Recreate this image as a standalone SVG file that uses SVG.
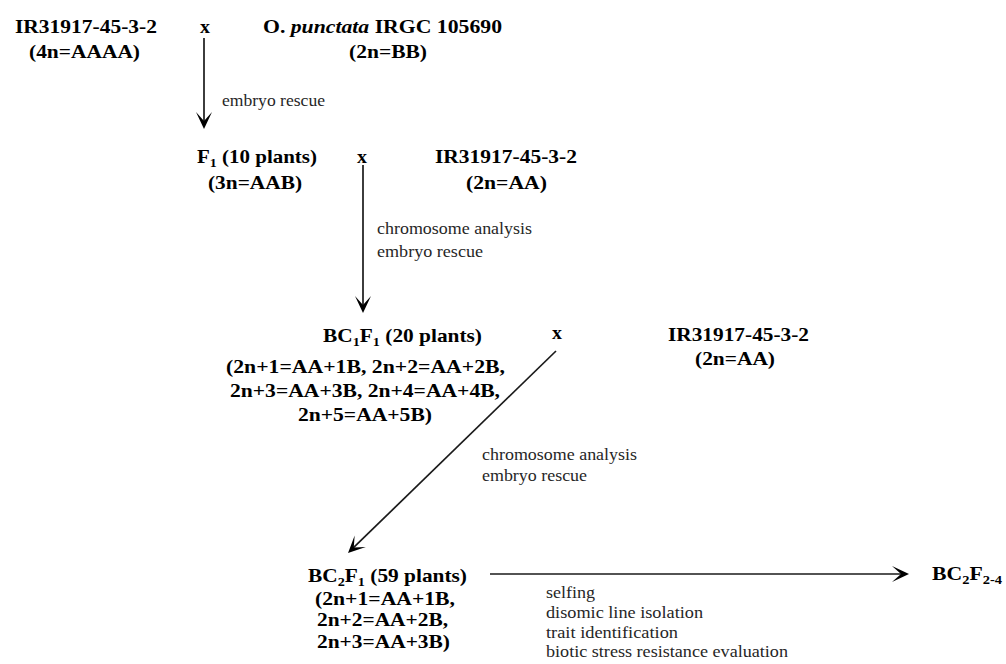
<svg xmlns="http://www.w3.org/2000/svg" width="1006" height="664" viewBox="0 0 1006 664">
<style>
.b{font-family:"Liberation Serif","Times New Roman",serif;font-weight:bold;font-size:19.5px;fill:#000}
.n{font-family:"Liberation Serif","Times New Roman",serif;font-size:16px;fill:#262626}
.s{font-size:13px}
.ln{stroke:#1a1a1a;stroke-width:1.7;fill:none;marker-end:url(#ah)}
</style>
<defs>
<marker id="ah" markerUnits="userSpaceOnUse" orient="auto" refX="0" refY="0" markerWidth="30" markerHeight="30" overflow="visible">
<path d="M4,0 L-13,-8 L-4,0 L-13,8 Z" fill="#000"/>
</marker>
</defs>
<rect width="1006" height="664" fill="#fff"/>
<g id="connectors">
<line class="ln" x1="204" y1="38" x2="204" y2="125"/>
<line class="ln" x1="363" y1="165" x2="363" y2="309"/>
<line class="ln" x1="556" y1="351" x2="350.9" y2="550.2"/>
<line class="ln" x1="490" y1="574" x2="905" y2="574"/>
<text class="n" x="222" y="106" textLength="103" lengthAdjust="spacingAndGlyphs">embryo rescue</text>
<text class="n" x="377" y="234" textLength="155" lengthAdjust="spacingAndGlyphs">chromosome analysis</text>
<text class="n" x="377" y="257" textLength="106" lengthAdjust="spacingAndGlyphs">embryo rescue</text>
<text class="n" x="482" y="460" textLength="155" lengthAdjust="spacingAndGlyphs">chromosome analysis</text>
<text class="n" x="482" y="481" textLength="105" lengthAdjust="spacingAndGlyphs">embryo rescue</text>
<text class="n" x="546" y="598" textLength="49" lengthAdjust="spacingAndGlyphs">selfing</text>
<text class="n" x="546" y="618" textLength="157" lengthAdjust="spacingAndGlyphs">disomic line isolation</text>
<text class="n" x="546" y="638" textLength="132" lengthAdjust="spacingAndGlyphs">trait identification</text>
<text class="n" x="546" y="657" textLength="242" lengthAdjust="spacingAndGlyphs">biotic stress resistance evaluation</text>
</g>
<g id="p1">
<text class="b" x="15" y="33" textLength="142" lengthAdjust="spacingAndGlyphs">IR31917-45-3-2</text>
<text class="b" x="29" y="58" textLength="111" lengthAdjust="spacingAndGlyphs">(4n=AAAA)</text>
</g>
<g id="x1"><text class="b" x="200" y="33" textLength="10" lengthAdjust="spacingAndGlyphs">x</text></g>
<g id="p2">
<text class="b" x="263" y="33" textLength="239" lengthAdjust="spacingAndGlyphs">O. <tspan font-style="italic">punctata</tspan> IRGC 105690</text>
<text class="b" x="349" y="58" textLength="78" lengthAdjust="spacingAndGlyphs">(2n=BB)</text>
</g>
<g id="f1">
<text class="b" x="197" y="163" textLength="120" lengthAdjust="spacingAndGlyphs">F<tspan class="s" dy="4">1</tspan><tspan dy="-4"> (10 plants)</tspan></text>
<text class="b" x="208" y="189" textLength="94" lengthAdjust="spacingAndGlyphs">(3n=AAB)</text>
</g>
<g id="x2"><text class="b" x="357" y="163" textLength="10" lengthAdjust="spacingAndGlyphs">x</text></g>
<g id="p3">
<text class="b" x="435" y="163" textLength="142" lengthAdjust="spacingAndGlyphs">IR31917-45-3-2</text>
<text class="b" x="466" y="189" textLength="81" lengthAdjust="spacingAndGlyphs">(2n=AA)</text>
</g>
<g id="bc1f1">
<text class="b" x="323" y="342" textLength="159" lengthAdjust="spacingAndGlyphs">BC<tspan class="s" dy="4">1</tspan><tspan dy="-4">F</tspan><tspan class="s" dy="4">1</tspan><tspan dy="-4"> (20 plants)</tspan></text>
<text class="b" x="226" y="373" textLength="279" lengthAdjust="spacingAndGlyphs">(2n+1=AA+1B, 2n+2=AA+2B,</text>
<text class="b" x="230" y="397" textLength="270" lengthAdjust="spacingAndGlyphs">2n+3=AA+3B, 2n+4=AA+4B,</text>
<text class="b" x="298" y="421" textLength="134" lengthAdjust="spacingAndGlyphs">2n+5=AA+5B)</text>
</g>
<g id="x3"><text class="b" x="552" y="339" textLength="10" lengthAdjust="spacingAndGlyphs">x</text></g>
<g id="p4">
<text class="b" x="668" y="341" textLength="141" lengthAdjust="spacingAndGlyphs">IR31917-45-3-2</text>
<text class="b" x="695" y="365" textLength="80" lengthAdjust="spacingAndGlyphs">(2n=AA)</text>
</g>
<g id="bc2f1">
<text class="b" x="308" y="582" textLength="159" lengthAdjust="spacingAndGlyphs">BC<tspan class="s" dy="4">2</tspan><tspan dy="-4">F</tspan><tspan class="s" dy="4">1</tspan><tspan dy="-4"> (59 plants)</tspan></text>
<text class="b" x="315" y="605" textLength="140" lengthAdjust="spacingAndGlyphs">(2n+1=AA+1B,</text>
<text class="b" x="317" y="626" textLength="131" lengthAdjust="spacingAndGlyphs">2n+2=AA+2B,</text>
<text class="b" x="317" y="648" textLength="133" lengthAdjust="spacingAndGlyphs">2n+3=AA+3B)</text>
</g>
<g id="bc2f24">
<text class="b" x="932" y="580" textLength="70" lengthAdjust="spacingAndGlyphs">BC<tspan class="s" dy="4">2</tspan><tspan dy="-4">F</tspan><tspan class="s" dy="4">2-4</tspan></text>
</g>
</svg>
